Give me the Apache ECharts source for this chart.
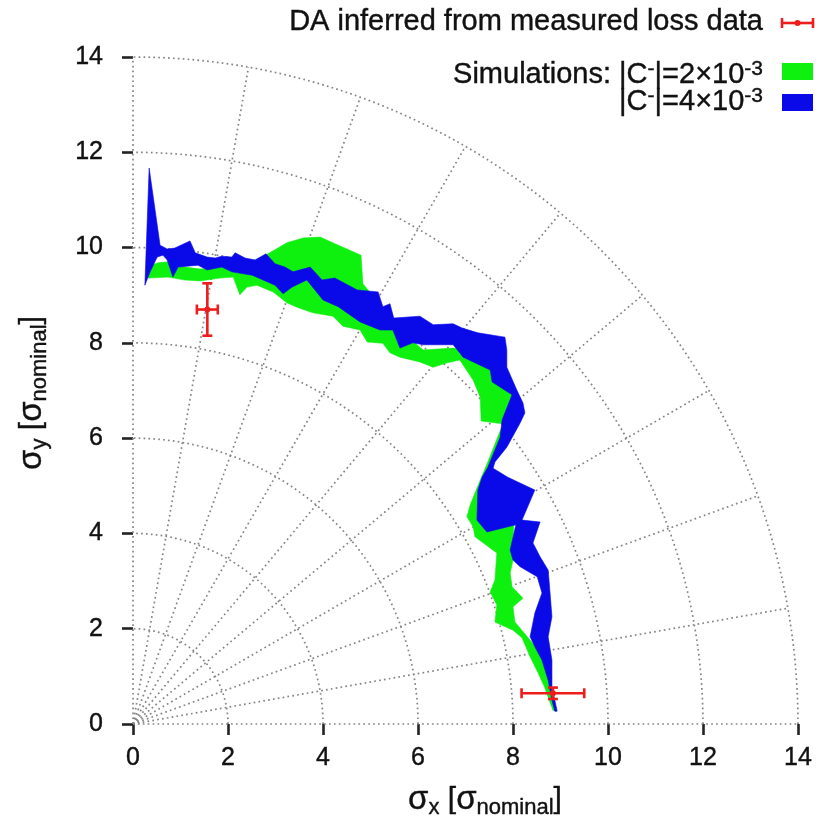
<!DOCTYPE html>
<html><head><meta charset="utf-8">
<script src="https://cdn.jsdelivr.net/npm/echarts@6/dist/echarts.min.js"></script>
<style>html,body{margin:0;padding:0;background:#fff}#c{width:826px;height:822px}</style>
</head><body><div id="c"></div>
<script>
// ---------- data ----------
const axisTicks = [0, 2, 4, 6, 8, 10, 12, 14];
const gridRadii = [2, 4, 6, 8, 10, 12, 14];
const gridAngles = [0, 10, 20, 30, 40, 50, 60, 70, 80, 90];

// Simulated DA band, |C-| = 2e-3 (outer and inner boundaries)
const greenOuter = [[0.32,9.61],[0.53,9.68],[0.74,9.70],[1.09,9.59],[1.41,9.55],[1.73,9.57],[2.15,9.68],[2.59,9.74],[2.88,9.89],[3.24,10.10],[3.58,10.20],[3.94,10.22],[4.25,10.08],[4.80,9.84],[4.84,9.24],[5.31,8.66],[5.73,8.17],[6.11,7.85],[6.74,7.89],[7.09,7.85],[7.62,7.60],[7.83,7.22],[8.04,6.84],[7.94,6.38],[7.83,5.96],[7.52,5.44],[7.73,4.91],[7.83,4.49],[8.02,4.20],[7.98,3.65],[8.00,3.44],[7.94,3.17],[7.98,2.88],[8.21,2.64],[8.00,2.46],[8.04,2.14],[8.32,1.81],[8.53,1.55],[8.70,1.13],[8.80,0.71],[8.91,0.27]];
const greenInner = [[0.32,9.36],[0.74,9.38],[1.09,9.32],[1.41,9.30],[1.83,9.36],[2.11,9.38],[2.25,9.01],[2.40,9.17],[2.61,9.21],[2.95,9.07],[3.24,8.84],[3.45,8.75],[3.79,8.63],[4.21,8.56],[4.42,8.35],[4.78,8.27],[4.93,8.02],[5.26,7.99],[5.41,7.79],[5.62,7.70],[6.04,7.60],[6.32,7.49],[6.61,7.58],[6.88,7.64],[7.16,7.22],[7.31,6.86],[7.33,6.36],[7.79,6.30],[7.47,5.50],[7.31,5.12],[7.10,4.60],[7.03,4.35],[7.16,4.14],[7.20,3.93],[7.66,3.59],[7.62,3.02],[7.52,2.77],[7.66,2.50],[7.62,2.14],[8.00,1.97],[8.19,1.81],[8.36,1.41],[8.53,1.07],[8.67,0.76],[8.84,0.29]];

// Simulated DA band, |C-| = 4e-3
const blueOuter = [[0.34,11.67],[0.57,10.05],[0.72,9.97],[0.88,9.99],[1.20,10.14],[1.31,9.89],[1.56,9.80],[1.73,9.78],[1.87,9.82],[2.08,9.80],[2.15,9.89],[2.36,9.78],[2.57,9.74],[2.80,9.87],[2.99,9.66],[3.20,9.59],[3.37,9.49],[3.73,9.59],[3.98,9.32],[4.25,9.36],[4.72,9.11],[5.16,9.07],[5.26,8.76],[5.41,8.82],[5.49,8.52],[6.04,8.56],[6.32,8.38],[6.74,8.40],[6.93,8.31],[7.26,8.21],[7.83,8.12],[7.87,7.85],[7.87,7.49],[8.08,7.01],[8.21,6.74],[8.25,6.53],[8.15,6.32],[7.87,5.81],[7.62,5.50],[7.58,5.37],[7.89,5.18],[8.46,4.91],[8.19,4.28],[8.57,4.24],[8.42,3.80],[8.57,3.51],[8.74,3.23],[8.78,2.75],[8.82,2.25],[8.74,1.83],[8.82,1.34],[8.82,0.78],[8.93,0.27]];
const blueInner = [[0.25,9.21],[0.36,9.49],[0.51,9.80],[0.63,9.84],[0.72,9.74],[0.84,9.38],[0.95,9.59],[1.37,9.63],[1.56,9.53],[1.87,9.59],[2.08,9.49],[2.51,9.42],[2.99,9.21],[3.16,9.03],[3.35,9.17],[3.66,9.32],[4.00,8.90],[4.32,8.76],[4.78,8.44],[5.20,8.27],[5.47,8.27],[5.62,7.89],[5.89,8.00],[6.11,7.96],[6.74,7.96],[6.95,7.70],[7.52,7.43],[7.56,7.18],[7.98,6.91],[7.77,6.38],[7.73,6.02],[7.47,5.39],[7.35,5.18],[7.26,4.91],[7.24,4.28],[7.45,4.03],[8.06,4.18],[7.94,3.65],[8.00,3.44],[8.15,3.30],[8.51,3.09],[8.61,2.75],[8.46,2.33],[8.36,1.83],[8.46,1.62],[8.61,1.34],[8.74,0.92],[8.82,0.50],[8.88,0.27]];

// DA inferred from measured loss data (centre, x error, y error)
const daX = [1.565, 8.84];
const daY = [8.70, 0.645];
const daErrX = [0.22, 0.66];
const daErrY = [0.55, 0.12];

// ---------- chart ----------
const FONT = '"Liberation Sans", Arial, sans-serif';
const INK = '#111';
const GREEN = '#0ef00e';
const BLUE = '#0a0ae8';
const RED = '#ee1c1c';
const GRIDC = '#858585';

function polygonSeries(outer, inner, color, z) {
  const pts = outer.concat(inner.slice().reverse());
  return {
    type: 'custom', z: z, silent: true,
    data: pts,
    encode: {x: 0, y: 1},
    renderItem: function (params, api) {
      if (params.dataIndex !== 0) return null;
      return {
        type: 'polygon',
        shape: {points: pts.map(p => api.coord(p))},
        style: {fill: color, stroke: color, lineWidth: 0.6}
      };
    }
  };
}

const arcSeries = {
  type: 'custom', z: 1, silent: true,
  data: gridRadii.map(r => [r, 0]),
  encode: {x: 0, y: 1},
  renderItem: function (params, api) {
    const r = api.value(0);
    const pts = [];
    for (let a = 0; a <= 90; a += 1) {
      const t = a * Math.PI / 180;
      pts.push(api.coord([r * Math.cos(t), r * Math.sin(t)]));
    }
    return {type: 'polyline', shape: {points: pts},
      style: {stroke: GRIDC, lineWidth: 1.7, lineDash: [1.7, 3.2], fill: null}};
  }
};

const spokeSeries = {
  type: 'custom', z: 1, silent: true,
  data: gridAngles.map(a => [a, 0]),
  encode: {x: 0, y: 1},
  renderItem: function (params, api) {
    const t = api.value(0) * Math.PI / 180;
    const R = gridRadii[gridRadii.length - 1];
    const p0 = api.coord([0, 0]);
    const p1 = api.coord([R * Math.cos(t), R * Math.sin(t)]);
    return {type: 'line', shape: {x1: p0[0], y1: p0[1], x2: p1[0], y2: p1[1]},
      style: {stroke: GRIDC, lineWidth: 1.7, lineDash: [1.7, 3.2]}};
  }
};

const errSeries = {
  type: 'custom', z: 5, silent: true,
  data: daX.map((x, i) => [x, daY[i], daErrX[i], daErrY[i]]),
  encode: {x: 0, y: 1},
  renderItem: function (params, api) {
    const x = api.value(0), y = api.value(1), ex = api.value(2), ey = api.value(3);
    const c = api.coord([x, y]);
    const l = api.coord([x - ex, y]), r = api.coord([x + ex, y]);
    const t = api.coord([x, y + ey]), b = api.coord([x, y - ey]);
    const cap = 5;
    const st = {stroke: RED, lineWidth: 2.6};
    return {type: 'group', children: [
      {type: 'line', shape: {x1: l[0], y1: l[1], x2: r[0], y2: r[1]}, style: st},
      {type: 'line', shape: {x1: t[0], y1: t[1], x2: b[0], y2: b[1]}, style: st},
      {type: 'line', shape: {x1: l[0], y1: l[1] - cap, x2: l[0], y2: l[1] + cap}, style: st},
      {type: 'line', shape: {x1: r[0], y1: r[1] - cap, x2: r[0], y2: r[1] + cap}, style: st},
      {type: 'line', shape: {x1: t[0] - cap, y1: t[1], x2: t[0] + cap, y2: t[1]}, style: st},
      {type: 'line', shape: {x1: b[0] - cap, y1: b[1], x2: b[0] + cap, y2: b[1]}, style: st},
      {type: 'circle', shape: {cx: c[0], cy: c[1], r: 3}, style: {fill: RED}}
    ]};
  }
};

function axisCfg(margin) {
  return {
    type: 'value',
    min: axisTicks[0], max: axisTicks[axisTicks.length - 1],
    interval: axisTicks[1] - axisTicks[0],
    axisLine: {show: false},
    axisTick: {show: true, length: 11, lineStyle: {color: '#222', width: 2.6}},
    splitLine: {show: false},
    axisLabel: {color: INK, fontSize: 25, fontFamily: FONT, margin: margin,
      textBorderColor: INK, textBorderWidth: 0.4}
  };
}

const T = (size, extra) => Object.assign({fontSize: size, fontFamily: FONT, fill: INK,
  stroke: INK, lineWidth: 0.4}, extra || {});

const chart = echarts.init(document.getElementById('c'), null, {renderer: 'canvas'});
chart.setOption({
  animation: false,
  backgroundColor: '#fff',
  grid: {left: 133, top: 57, width: 665, height: 667},
  xAxis: axisCfg(22),
  yAxis: axisCfg(30),
  series: [
    arcSeries,
    spokeSeries,
    polygonSeries(greenOuter, greenInner, GREEN, 3),
    polygonSeries(blueOuter, blueInner, BLUE, 4),
    errSeries
  ],
  graphic: [
    {type: 'text', x: 763, y: 22, z: 10,
      style: {text: '{t|DA inferred from measured loss data}', align: 'right', verticalAlign: 'middle',
        textAlign: 'right', textVerticalAlign: 'middle',
        rich: {t: T(29, {lineHeight: 32})}}},
    {type: 'text', x: 763, y: 75, z: 10,
      style: {text: '{t|Simulations: |C}{s|-}{t||=2×10}{s|-3}', align: 'right', verticalAlign: 'middle',
        textAlign: 'right', textVerticalAlign: 'middle',
        rich: {t: T(29, {lineHeight: 32}), s: T(21, {lineHeight: 17, verticalAlign: 'top'})}}},
    {type: 'text', x: 763, y: 102, z: 10,
      style: {text: '{t||C}{s|-}{t||=4×10}{s|-3}', align: 'right', verticalAlign: 'middle',
        textAlign: 'right', textVerticalAlign: 'middle',
        rich: {t: T(29, {lineHeight: 32}), s: T(21, {lineHeight: 17, verticalAlign: 'top'})}}},
    // legend keys
    {type: 'group', z: 10, children: [
      {type: 'line', shape: {x1: 782, y1: 23, x2: 813, y2: 23}, style: {stroke: RED, lineWidth: 2.6}},
      {type: 'line', shape: {x1: 782, y1: 18, x2: 782, y2: 28}, style: {stroke: RED, lineWidth: 2.6}},
      {type: 'line', shape: {x1: 813, y1: 18, x2: 813, y2: 28}, style: {stroke: RED, lineWidth: 2.6}},
      {type: 'circle', shape: {cx: 797.5, cy: 23, r: 3}, style: {fill: RED}},
      {type: 'rect', shape: {x: 782, y: 63, width: 31, height: 17}, style: {fill: GREEN}},
      {type: 'rect', shape: {x: 782, y: 94, width: 31, height: 17}, style: {fill: BLUE}}
    ]},
    // axis titles
    {type: 'text', x: 485, y: 800, z: 10,
      style: {text: '{a|σ}{b|x}{c| [}{a|σ}{b|nominal}{c|]}', align: 'center', verticalAlign: 'middle',
        textAlign: 'center', textVerticalAlign: 'middle',
        rich: {a: T(33, {lineHeight: 38}), c: T(30, {lineHeight: 38}),
               b: T(22, {lineHeight: 22, verticalAlign: 'bottom'})}}},
    {type: 'text', x: 32, y: 393, z: 10, rotation: Math.PI / 2,
      style: {text: '{a|σ}{b|y}{c| [}{a|σ}{b|nominal}{c|]}', align: 'center', verticalAlign: 'middle',
        textAlign: 'center', textVerticalAlign: 'middle',
        rich: {a: T(33, {lineHeight: 38}), c: T(30, {lineHeight: 38}),
               b: T(22, {lineHeight: 22, verticalAlign: 'bottom'})}}}
  ]
});
</script>
</body></html>
